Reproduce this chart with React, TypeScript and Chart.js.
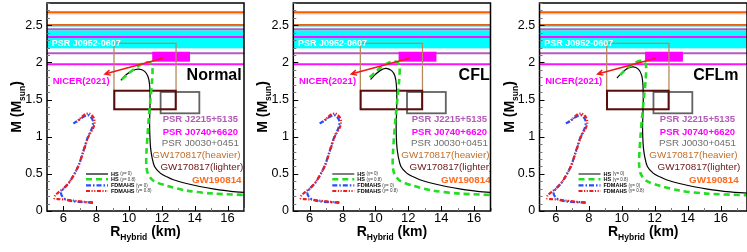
import React, { useEffect, useRef } from "react";
import { Chart, registerables } from "chart.js";
Chart.register(...registerables);

type Pt = [number, number];

const FONT = "'Liberation Sans', Arial, Helvetica, sans-serif";

// ---------------- data ----------------
const panelTitles = ["Normal", "CFL", "CFLm"];
const xMin = 5;
const xMaxByPanel = [17, 17, 17.6];
const yMin = 0;
const yMax = 2.8;
const xTickValues = [6, 8, 10, 12, 14, 16];
const yTickValues = [0, 0.5, 1, 1.5, 2, 2.5];
const yTickLabels = ["0", "0.5", "1", "1.5", "2", "2.5"];

// HS (gamma = 0) mass-radius curves, [R km, M Msun]
const hsGamma0Normal: Pt[] = [
  [9.5, 1.76], [9.8, 1.83], [10.2, 1.89], [10.6, 1.91], [10.95, 1.88], [11.15, 1.81],
  [11.25, 1.7], [11.28, 1.5], [11.26, 1.3], [11.25, 1.15], [11.27, 1.0], [11.31, 0.85],
  [11.4, 0.72], [11.55, 0.6], [11.9, 0.51], [12.3, 0.46], [12.7, 0.42], [13.5, 0.37],
  [14.3, 0.33], [15.2, 0.295], [16.2, 0.265], [17.6, 0.24],
];
const hsGamma0CFL: Pt[] = [
  [9.7, 1.77], [10.0, 1.84], [10.35, 1.9], [10.65, 1.92], [10.98, 1.89], [11.18, 1.82],
  [11.27, 1.7], [11.3, 1.5], [11.28, 1.3], [11.26, 1.15], [11.27, 1.0], [11.31, 0.85],
  [11.4, 0.72], [11.55, 0.6], [11.9, 0.51], [12.3, 0.46], [12.7, 0.42], [13.5, 0.37],
  [14.3, 0.33], [15.2, 0.295], [16.2, 0.265], [17.6, 0.24],
];
const hsGamma0CFLm: Pt[] = [
  [9.7, 1.79], [10.0, 1.86], [10.35, 1.92], [10.7, 1.94], [11.0, 1.91], [11.2, 1.83],
  [11.28, 1.7], [11.3, 1.5], [11.28, 1.3], [11.26, 1.15], [11.27, 1.0], [11.31, 0.85],
  [11.4, 0.72], [11.55, 0.6], [11.9, 0.51], [12.3, 0.46], [12.7, 0.42], [13.5, 0.37],
  [14.3, 0.33], [15.2, 0.295], [16.2, 0.265], [17.6, 0.24],
];

// HS (gamma = 0.8)
const hsGamma08Normal: Pt[] = [
  [9.55, 1.77], [9.9, 1.84], [10.3, 1.91], [10.7, 1.97], [11.0, 2.0], [11.3, 1.99],
  [11.42, 1.93], [11.4, 1.75], [11.3, 1.5], [11.2, 1.25], [11.12, 1.0], [11.06, 0.8],
  [11.05, 0.62], [11.15, 0.5], [11.5, 0.405], [12.3, 0.34], [13.5, 0.275], [15.15, 0.234],
  [17.6, 0.212],
];
const hsGamma08CFL: Pt[] = [
  [9.65, 1.8], [10.0, 1.87], [10.35, 1.94], [10.75, 1.99], [11.05, 2.01], [11.35, 2.0],
  [11.47, 1.94], [11.44, 1.75], [11.33, 1.5], [11.22, 1.25], [11.13, 1.0], [11.07, 0.8],
  [11.05, 0.62], [11.15, 0.5], [11.5, 0.405], [12.3, 0.34], [13.5, 0.275], [15.15, 0.234],
  [17.6, 0.212],
];
const hsGamma08CFLm: Pt[] = [
  [9.9, 1.83], [10.3, 1.92], [10.7, 1.98], [11.05, 2.02], [11.35, 2.01],
  [11.47, 1.95], [11.44, 1.75], [11.33, 1.5], [11.22, 1.25], [11.13, 1.0], [11.07, 0.8],
  [11.05, 0.62], [11.15, 0.5], [11.5, 0.405], [12.3, 0.34], [13.5, 0.275], [15.15, 0.234],
  [17.6, 0.212],
];

// FDMAHS curves (same in all panels)
const fdmahsGamma0: Pt[] = [
  [7.8, 0.11], [7.2, 0.12], [6.6, 0.13], [6.2, 0.15], [5.95, 0.19], [5.85, 0.25],
  [6.0, 0.3], [6.4, 0.4], [6.9, 0.6], [7.2, 0.8], [7.5, 1.0], [7.75, 1.12],
  [7.8, 1.21], [7.62, 1.28], [7.42, 1.29], [7.1, 1.25], [6.85, 1.21], [6.6, 1.18],
];
const fdmahsGamma08: Pt[] = [
  [7.8, 0.115], [7.2, 0.125], [6.6, 0.14], [6.1, 0.155], [5.7, 0.16], [5.45, 0.17],
  [5.5, 0.21], [5.75, 0.26], [6.05, 0.31], [6.4, 0.4], [6.9, 0.6], [7.22, 0.8],
  [7.52, 1.0], [7.82, 1.12], [7.9, 1.2], [7.8, 1.27], [7.58, 1.31], [7.3, 1.3],
  [7.0, 1.24], [6.8, 1.2],
];

// horizontal constraint lines
const bandLineMasses = [2.675, 2.648, 2.504, 2.49, 2.446, 2.342, 2.123, 1.975];
const bandLineColors = ["#ff5a00", "#f2e2d6", "#e0641a", "#30c8c8", "#b45cbc", "#ff10ff", "#b45cbc", "#ff10ff"];
const bandLineWidths = [2.2, 1, 2, 1, 2, 2, 2, 2];
const cyanBandM: [number, number] = [2.19, 2.432];

// rectangles [Rmin, Rmax, Mmin, Mmax]
const boxHeavier = [9.08, 12.86, 1.369, 2.257];
const boxLighter = [9.1, 12.84, 1.369, 1.619];
const boxJ0030 = [11.92, 14.28, 1.315, 1.602];
const rectJ0740 = [11.41, 13.71, 2.01, 2.144];
const arrowFrom: Pt = [12.06, 2.055];
const arrowTo: Pt = [8.53, 1.844];

// right-hand labels
const labelTexts = ["PSR J2215+5135", "PSR J0740+6620", "PSR J0030+0451", "GW170817(heavier)", "GW170817(lighter)", "GW190814"];
const labelColors = ["#b25ab8", "#ff00ff", "#6e6e6e", "#c0702c", "#6a1414", "#ff6a1e"];
const labelCenterR = [14.34, 14.34, 14.34, 14.1, 14.43, 15.34];
const labelM = [1.234, 1.063, 0.911, 0.754, 0.583, 0.417];
const labelBold = [true, true, false, false, false, true];
const labelSize = [9.5, 9.5, 9.8, 9.8, 9.8, 9.8];
const labelShiftByPanel = [0, 0.16, 0.25];
const titleRightR = [16.86, 16.95, 17.09];

// legend
const legendNames = ["HS", "HS", "FDMAHS", "FDMAHS"];
const legendGammas = ["(γ= 0)", "(γ= 0.8)", "(γ= 0)", "(γ= 0.8)"];
const legendM = [0.498, 0.427, 0.346, 0.269];

const hsGamma0ByPanel = [hsGamma0Normal, hsGamma0CFL, hsGamma0CFLm];
const hsGamma08ByPanel = [hsGamma08Normal, hsGamma08CFL, hsGamma08CFLm];

// ---------------- styles ----------------
const curveStyles = [
  { color: "#000000", width: 1.2, dash: [] as number[] },
  { color: "#22dd22", width: 2.6, dash: [6, 4] },
  { color: "#2150ff", width: 2.2, dash: [5, 2, 1.5, 2] },
  { color: "#ee1c1c", width: 2.2, dash: [4, 1.5, 1.2, 1.5, 1.2, 1.5] },
];

const panelGeom = [
  { left: 0, width: 247, pad: { left: 47, right: 3, top: 3, bottom: 41 } },
  { left: 247, width: 247, pad: { left: 46.3, right: 3.5, top: 3, bottom: 41 } },
  { left: 494, width: 253, pad: { left: 45.5, right: 0, top: 3, bottom: 41 } },
];

function toXY(pts: Pt[]) {
  return pts.map(([x, y]) => ({ x, y }));
}

function makePlugin(p: number) {
  return {
    id: "decor" + p,
    beforeDatasetsDraw(chart: any) {
      const { ctx, chartArea: a, scales } = chart;
      const X = (v: number) => scales.x.getPixelForValue(v);
      const Y = (v: number) => scales.y.getPixelForValue(v);
      ctx.save();
      ctx.beginPath();
      ctx.rect(a.left, a.top, a.right - a.left, a.bottom - a.top);
      ctx.clip();
      ctx.fillStyle = "#00ffff";
      ctx.fillRect(a.left, Y(cyanBandM[1]), a.right - a.left, Y(cyanBandM[0]) - Y(cyanBandM[1]));
      bandLineMasses.forEach((m, i) => {
        ctx.strokeStyle = bandLineColors[i];
        ctx.lineWidth = bandLineWidths[i];
        ctx.beginPath();
        ctx.moveTo(a.left, Y(m));
        ctx.lineTo(a.right, Y(m));
        ctx.stroke();
      });
      // J0740 filled rect
      ctx.fillStyle = "#ff00ff";
      ctx.fillRect(X(rectJ0740[0]), Y(rectJ0740[3]), X(rectJ0740[1]) - X(rectJ0740[0]), Y(rectJ0740[2]) - Y(rectJ0740[3]));
      const box = (b: number[], color: string, w: number) => {
        ctx.strokeStyle = color;
        ctx.lineWidth = w;
        ctx.strokeRect(X(b[0]), Y(b[3]), X(b[1]) - X(b[0]), Y(b[2]) - Y(b[3]));
      };
      box(boxHeavier, "#b48a5e", 1.3);
      box(boxJ0030, "#626262", 1.8);
      box(boxLighter, "#5a0c0c", 2);
      ctx.restore();
    },
    afterDatasetsDraw(chart: any) {
      const { ctx, chartArea: a, scales } = chart;
      const X = (v: number) => scales.x.getPixelForValue(v);
      const Y = (v: number) => scales.y.getPixelForValue(v);
      ctx.save();
      ctx.beginPath();
      ctx.rect(a.left, a.top, a.right - a.left, a.bottom - a.top);
      ctx.clip();
      // arrow
      const x1 = X(arrowFrom[0]), y1 = Y(arrowFrom[1]);
      const x2 = X(arrowTo[0]), y2 = Y(arrowTo[1]);
      ctx.strokeStyle = "#ee1a1a";
      ctx.lineWidth = 1.5;
      ctx.beginPath();
      ctx.moveTo(x1, y1);
      ctx.lineTo(x2, y2);
      const ang = Math.atan2(y1 - y2, x1 - x2);
      const hl = 6;
      ctx.moveTo(x2 + hl * Math.cos(ang + 0.45), y2 + hl * Math.sin(ang + 0.45));
      ctx.lineTo(x2, y2);
      ctx.lineTo(x2 + hl * Math.cos(ang - 0.45), y2 + hl * Math.sin(ang - 0.45));
      ctx.stroke();

      // texts
      ctx.textBaseline = "middle";
      ctx.textAlign = "left";
      ctx.fillStyle = "#ffffff";
      ctx.font = `bold 9px ${FONT}`;
      ctx.fillText("PSR J0952-0607", X(5.29), Y(2.257));
      ctx.fillStyle = "#ff00ff";
      ctx.font = `bold 9.5px ${FONT}`;
      ctx.fillText("NICER(2021)", X(5.35), Y(1.75));
      ctx.fillStyle = "#000000";
      ctx.font = `bold 16px ${FONT}`;
      ctx.textAlign = "right";
      ctx.fillText(panelTitles[p], X(titleRightR[p]), Y(1.817));
      ctx.textAlign = "center";
      labelTexts.forEach((t, i) => {
        ctx.fillStyle = labelColors[i];
        ctx.font = `${labelBold[i] ? "bold " : ""}${labelSize[i]}px ${FONT}`;
        ctx.fillText(t, X(labelCenterR[i] + labelShiftByPanel[p]), Y(labelM[i]));
      });

      // legend
      const lx0 = a.left + 39, lx1 = a.left + 61, tx = a.left + 64;
      [0, 1, 2, 3].forEach((i) => {
        const st = curveStyles[i];
        const yy = Y(legendM[i]);
        ctx.strokeStyle = st.color;
        ctx.lineWidth = st.width;
        ctx.setLineDash(st.dash);
        ctx.beginPath();
        ctx.moveTo(lx0, yy);
        ctx.lineTo(lx1, yy);
        ctx.stroke();
        ctx.setLineDash([]);
        ctx.textAlign = "left";
        ctx.fillStyle = "#000000";
        ctx.font = `bold 5.5px ${FONT}`;
        ctx.fillText(legendNames[i], tx, yy);
        const w = ctx.measureText(legendNames[i] + " ").width;
        ctx.font = `4.5px ${FONT}`;
        ctx.fillStyle = "#333333";
        ctx.fillText(legendGammas[i], tx + w, yy);
      });
      ctx.restore();

      // frame
      ctx.save();
      ctx.strokeStyle = "#000000";
      ctx.lineWidth = 1.5;
      ctx.strokeRect(a.left, a.top, a.right - a.left, a.bottom - a.top);
      // inner ticks
      ctx.lineWidth = 1;
      for (let k = 0; k <= 28; k++) {
        const m = k / 10;
        const yy = Math.round(Y(m)) + 0.5;
        const major = k % 5 === 0;
        ctx.strokeStyle = major ? "#000000" : "#777777";
        ctx.beginPath();
        ctx.moveTo(a.left, yy);
        ctx.lineTo(a.left + (major ? 5 : 3), yy);
        ctx.stroke();
      }
      for (let r = 6; r <= 17; r += 1) {
        const xx = Math.round(X(r)) + 0.5;
        const major = r % 2 === 0;
        ctx.strokeStyle = major ? "#000000" : "#777777";
        ctx.beginPath();
        ctx.moveTo(xx, a.bottom);
        ctx.lineTo(xx, a.bottom - (major ? 5 : 3));
        ctx.stroke();
      }
      // tick labels
      ctx.fillStyle = "#000000";
      ctx.font = `12.5px ${FONT}`;
      ctx.textAlign = "right";
      ctx.textBaseline = "middle";
      yTickValues.forEach((v, i) => ctx.fillText(yTickLabels[i], a.left - 4.3, Y(v)));
      ctx.textAlign = "center";
      ctx.font = `13px ${FONT}`;
      xTickValues.forEach((v) => ctx.fillText(String(v), X(v), a.bottom + 7));

      // x title
      const cx = (a.left + Math.min(a.right, chart.width)) / 2;
      const by = a.bottom + 25;
      ctx.textBaseline = "alphabetic";
      ctx.textAlign = "left";
      const big = `bold 14px ${FONT}`;
      const small = `bold 8.5px ${FONT}`;
      ctx.font = big;
      const wR = ctx.measureText("R").width;
      const wK = ctx.measureText(" (km)").width;
      ctx.font = small;
      const wH = ctx.measureText("Hybrid").width;
      let sx = cx - (wR + wH + wK) / 2;
      ctx.font = big;
      ctx.fillText("R", sx, by);
      sx += wR;
      ctx.font = small;
      ctx.fillText("Hybrid", sx, by + 4);
      sx += wH;
      ctx.font = big;
      ctx.fillText(" (km)", sx, by);

      // y title
      ctx.translate(a.left - 31, (a.top + a.bottom) / 2);
      ctx.rotate(-Math.PI / 2);
      ctx.font = big;
      const w1 = ctx.measureText("M (M").width;
      const w3 = ctx.measureText(")").width;
      ctx.font = small;
      const w2 = ctx.measureText("sun").width;
      let s = -(w1 + w2 + w3) / 2;
      ctx.font = big;
      ctx.fillText("M (M", s, 5);
      s += w1;
      ctx.font = small;
      ctx.fillText("sun", s, 9);
      s += w2;
      ctx.font = big;
      ctx.fillText(")", s, 5);
      ctx.restore();
    },
  };
}

function Panel({ index }: { index: number }) {
  const ref = useRef<HTMLCanvasElement | null>(null);
  const g = panelGeom[index];
  useEffect(() => {
    if (!ref.current) return;
    const curves = [hsGamma0ByPanel[index], hsGamma08ByPanel[index], fdmahsGamma0, fdmahsGamma08];
    const labels = ["HS (γ= 0)", "HS (γ= 0.8)", "FDMAHS (γ= 0)", "FDMAHS (γ= 0.8)"];
    // Chart.js draws dataset 0 last (on top)
    const drawOrder = [3, 1, 0, 2];
    const datasets = drawOrder.map((ci) => ({
      label: labels[ci],
      data: toXY(curves[ci]),
      showLine: true,
      borderColor: curveStyles[ci].color,
      borderWidth: curveStyles[ci].width,
      borderDash: curveStyles[ci].dash,
      pointRadius: 0,
      fill: false,
      tension: 0.3,
    }));
    const chart = new Chart(ref.current, {
      type: "scatter",
      data: { datasets },
      options: {
        responsive: false,
        devicePixelRatio: 1,
        animation: false,
        layout: { padding: g.pad },
        plugins: { legend: { display: false }, tooltip: { enabled: false } },
        scales: {
          x: { type: "linear", min: xMin, max: xMaxByPanel[index], display: false },
          y: { type: "linear", min: yMin, max: yMax, display: false },
        },
      },
      plugins: [makePlugin(index)],
    } as any);
    return () => chart.destroy();
  }, [index]);
  return (
    <canvas
      ref={ref}
      width={g.width}
      height={252}
      style={{ position: "absolute", left: g.left, top: 0, width: g.width, height: 252, display: "block" }}
    />
  );
}

export default function App() {
  useEffect(() => {
    document.body.style.margin = "0";
  }, []);
  return (
    <div style={{ position: "relative", width: 747, height: 252, background: "#ffffff", overflow: "hidden" }}>
      <Panel index={0} />
      <Panel index={1} />
      <Panel index={2} />
    </div>
  );
}
